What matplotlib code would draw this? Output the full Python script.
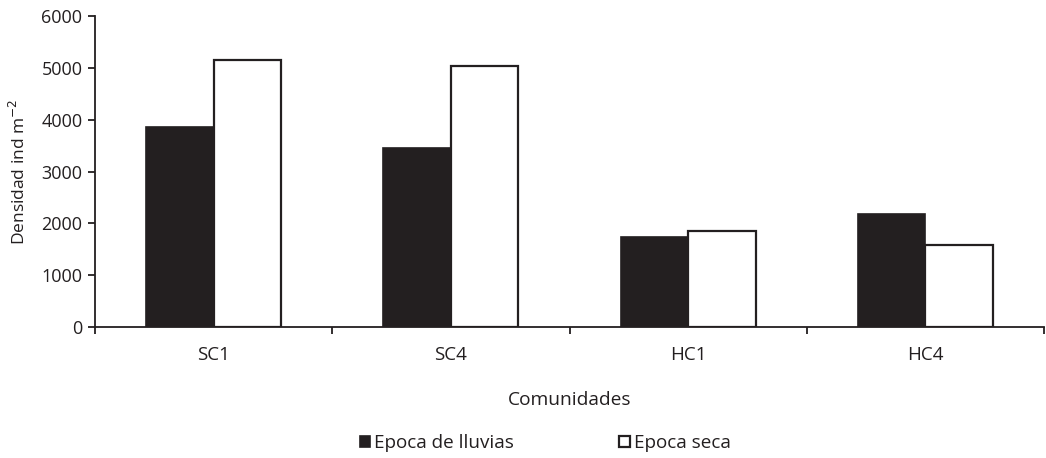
import matplotlib
matplotlib.use("Agg")
import matplotlib.pyplot as plt
from matplotlib.patches import Patch
import numpy as np

plt.rcParams['font.family'] = ['Open Sans', 'DejaVu Sans']

categories = ["SC1", "SC4", "HC1", "HC4"]
lluvias = [3850, 3450, 1740, 2180]
seca = [5150, 5040, 1850, 1580]
series_labels = ["Epoca de lluvias", "Epoca seca"]
yticks = [0, 1000, 2000, 3000, 4000, 5000, 6000]

ink = "#231f20"
fig = plt.figure(figsize=(10.46, 4.58), dpi=100)
ax = fig.add_axes([95/1046, 1-327/458, (1044-95)/1046, (327-16)/458])

x = np.arange(len(categories))
w = 0.285
ax.bar(x - w/2, lluvias, w, color=ink, edgecolor=ink, linewidth=1.2)
ax.bar(x + w/2, seca, w, color="white", edgecolor=ink, linewidth=1.6)

ax.set_xlim(-0.5, len(categories) - 0.5)
ax.set_ylim(0, 6000)
ax.set_yticks(yticks)
ax.set_yticklabels([str(v) for v in yticks], fontsize=13, color=ink)
ax.set_xticks(np.arange(len(categories) + 1) - 0.5)
ax.set_xticklabels([])
ax.set_xticks(x, minor=True)
ax.set_xticklabels(categories, minor=True, fontsize=13.5, color=ink)
ax.tick_params(axis='x', which='minor', length=0, pad=14)
ax.tick_params(axis='x', which='major', length=5, width=1.3, color=ink, direction='out')
ax.tick_params(axis='y', length=5, width=1.3, color=ink, direction='out', pad=4)

for s in ['top', 'right']:
    ax.spines[s].set_visible(False)
for s in ['left', 'bottom']:
    ax.spines[s].set_color(ink)
    ax.spines[s].set_linewidth(1.3)

ax.set_ylabel("Densidad ind m$^{-2}$", fontsize=12.5, color=ink, labelpad=9)
ax.set_xlabel("Comunidades", fontsize=13.8, color=ink, labelpad=19)

handles = [Patch(facecolor=ink, edgecolor=ink, linewidth=1.2),
           Patch(facecolor="white", edgecolor=ink, linewidth=1.6)]
fig.legend(handles, series_labels, loc='center', bbox_to_anchor=(545/1046, 1-443/458),
           ncol=2, frameon=False, fontsize=13.6, handlelength=0.55, handleheight=0.55,
           handletextpad=0.2, columnspacing=5.6, labelcolor=ink, borderpad=0)

fig.savefig("out.png", dpi=100)
